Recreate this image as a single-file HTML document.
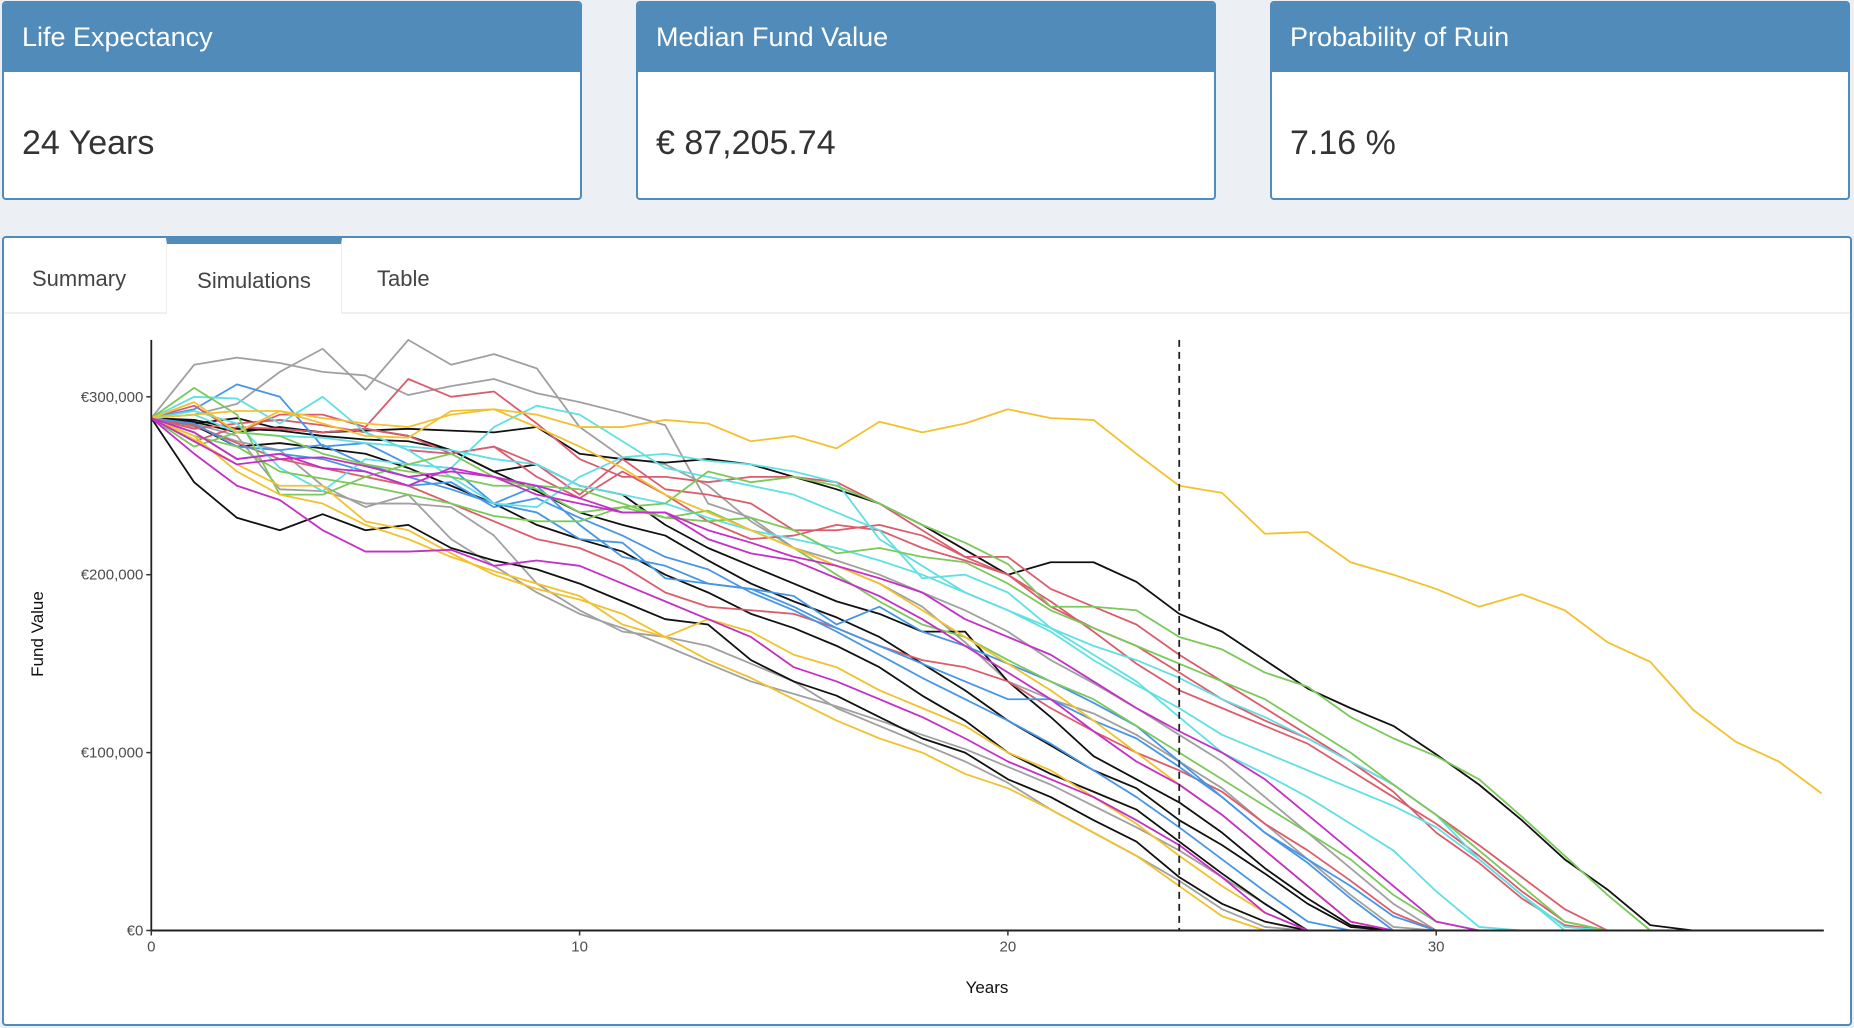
<!DOCTYPE html>
<html><head><meta charset="utf-8">
<style>
body{margin:0;width:1854px;height:1028px;background:#ecf0f5;font-family:"Liberation Sans",sans-serif;position:relative;overflow:hidden}
.card{position:absolute;top:1px;width:580px;height:199px;background:#fff;border:2px solid #4f8bbd;border-radius:4px;box-sizing:border-box;overflow:hidden}
.card .hd{height:69px;background:#508bba;color:#fff;font-size:27px;line-height:69px;padding-left:18px}
.card .val{font-size:34px;color:#333;padding-left:18px;margin-top:52px}
#tabbox{position:absolute;left:2px;top:236px;width:1850px;height:790px;background:#fff;border:2px solid #4f8bbd;border-radius:4px;box-sizing:border-box}
.tabbar{position:absolute;left:0;top:0;right:0;height:74px;border-bottom:2px solid #f0f0f0}
.tab{position:absolute;top:0;height:74px;line-height:82px;font-size:22px;color:#444}
.tab.active{background:#fff;border-top:6px solid #508bba;line-height:74px;border-left:1px solid #eee;border-right:1px solid #eee;height:70px;box-sizing:content-box}
svg{position:absolute;left:0;top:0}
</style></head><body>
<div class="card" style="left:2px"><div class="hd">Life Expectancy</div><div class="val">24 Years</div></div>
<div class="card" style="left:636px"><div class="hd">Median Fund Value</div><div class="val">€ 87,205.74</div></div>
<div class="card" style="left:1270px"><div class="hd">Probability of Ruin</div><div class="val">7.16 %</div></div>
<div id="tabbox">
<div class="tabbar">
<div class="tab" style="left:28px">Summary</div>
<div class="tab active" style="left:162px;width:174px;text-align:center">Simulations</div>
<div class="tab" style="left:373px">Table</div>
</div></div>
<svg id="chart" width="1854" height="1028"></svg>
<script>
const xTicks=[0,10,20,30];
const yTicks=[0,100,200,300];
const yTickLabels=["€0","€100,000","€200,000","€300,000"];
const lifeExpectancy=24;
const seriesColors=["#a0a0a0","#a0a0a0","#a0a0a0","#a0a0a0","#111111","#111111","#111111","#111111","#111111","#db5c6c","#db5c6c","#db5c6c","#db5c6c","#4796e6","#4796e6","#4796e6","#5fe0e4","#5fe0e4","#5fe0e4","#7ac95a","#7ac95a","#7ac95a","#f2c12e","#f2c12e","#f2c12e","#f2c12e","#c42fc6","#c42fc6","#c42fc6"];
const seriesValues=[
[288,318,322,319,314,312,301,306,310,302,297,291,284,240,232,215,208,200,190,180,168,152,139,125,110,95,75,55,35,15,0],
[288,290,296,314,327,304,332,318,324,316,283,266,262,250,230,215,205,195,182,162,140,130,122,110,95,80,60,40,20,2,0],
[288,285,278,248,247,240,240,238,222,195,180,168,165,160,150,140,125,115,105,95,83,68,55,42,28,12,2,0],
[288,283,275,270,250,238,245,220,205,190,178,170,160,150,140,133,126,118,110,102,92,82,70,58,45,30,15,0],
[288,252,232,225,234,225,228,215,208,203,195,185,175,172,152,140,132,120,108,100,85,75,62,50,30,15,5,0],
[288,287,282,281,278,276,275,270,258,247,235,228,222,208,195,185,176,165,150,135,118,104,90,80,62,48,32,15,2,0],
[288,285,288,282,280,282,278,270,258,262,250,245,228,215,205,195,185,178,168,168,140,120,98,85,72,55,35,18,3,0],
[288,286,280,283,280,281,282,281,280,283,268,265,263,265,262,255,248,240,228,214,200,207,207,196,178,168,152,136,125,115,99,82,62,40,23,3,0],
[288,284,272,274,271,268,260,250,240,228,220,213,200,190,178,170,160,148,132,118,100,88,78,68,50,32,15,0],
[288,295,280,290,290,283,310,300,303,285,265,255,255,252,255,255,252,240,225,210,200,182,170,160,145,130,118,108,95,82,65,48,30,12,0],
[288,275,283,282,280,282,278,268,272,262,245,265,248,245,240,225,225,228,222,210,210,192,182,172,155,140,125,110,95,78,55,38,18,3,0],
[288,284,274,265,260,255,250,240,230,220,215,205,190,182,180,178,170,160,152,148,140,125,112,100,90,78,60,45,28,10,0],
[288,282,285,287,284,280,270,268,272,255,243,258,245,230,220,222,228,225,215,208,200,185,168,150,135,125,115,105,90,75,60,42,22,5,0],
[288,293,307,300,272,274,262,260,240,250,228,210,205,195,192,188,172,182,168,160,150,140,128,115,95,75,55,40,25,8,0],
[288,285,272,270,273,262,255,248,240,235,220,218,198,195,192,182,170,160,150,140,130,130,118,108,92,75,55,38,18,0],
[288,280,265,268,265,258,250,252,238,243,232,222,210,203,190,180,168,155,142,130,118,105,90,75,58,40,22,5,0],
[288,300,299,285,300,280,270,255,240,238,255,266,268,264,262,258,252,220,205,190,180,170,160,152,142,130,120,108,95,82,65,40,20,2,0],
[288,290,280,278,277,274,272,270,265,262,250,245,240,232,225,220,215,208,200,190,180,168,152,138,125,110,100,90,80,70,58,40,20,0],
[288,292,285,260,247,265,262,260,283,295,290,275,260,255,250,245,235,225,198,200,190,170,155,140,120,100,88,75,60,45,22,2,0],
[288,305,290,245,245,255,262,268,255,248,235,238,240,258,252,255,250,240,228,218,206,182,182,180,165,158,145,137,120,108,98,85,64,42,20,0],
[288,272,280,278,268,262,258,255,250,250,248,240,232,236,225,215,200,185,172,165,152,140,130,115,100,85,70,55,40,20,5,0],
[288,278,272,258,254,250,245,240,233,230,230,238,232,230,232,225,212,215,210,207,195,180,170,160,150,140,130,115,100,82,65,45,25,5,0],
[288,290,292,292,288,285,283,290,293,290,283,283,287,285,275,278,271,286,280,285,293,288,287,268,250,246,223,224,207,200,192,182,189,180,162,151,124,106,95,77],
[288,278,258,245,240,228,220,210,202,195,188,172,165,175,168,155,148,135,125,115,100,90,75,60,42,25,10,0],
[288,276,262,250,250,230,225,212,200,192,186,178,165,152,142,130,118,108,100,88,80,68,55,42,25,8,0],
[288,297,280,292,285,278,277,292,293,283,272,260,245,235,225,215,205,195,180,165,150,135,118,100,82,65,45,25,5,0],
[288,268,250,242,225,213,213,214,205,208,205,195,185,175,165,148,140,130,120,108,95,85,75,62,48,30,10,0],
[288,275,262,265,266,261,255,258,255,245,240,235,235,225,218,210,205,198,190,175,165,155,140,125,112,100,85,65,45,25,5,0],
[288,280,265,268,260,258,250,260,255,250,243,235,235,220,212,208,198,188,175,160,145,130,112,95,82,65,45,25,5,0]
];
const NS="http://www.w3.org/2000/svg";
const svg=document.getElementById('chart');
const X0=151.3,PX=42.83,Y0=930.5,PY=1.779,XMAX=39.05,YMAX=332;
const sx=v=>X0+v*PX, sy=v=>Y0-v*PY;
function mk(t,a){const e=document.createElementNS(NS,t);for(const k in a)e.setAttribute(k,a[k]);svg.appendChild(e);return e;}
seriesValues.forEach((s,i)=>{
  const p=mk('polyline',{points:s.map((v,j)=>sx(j)+','+sy(v)).join(' '),fill:'none',stroke:seriesColors[i],'stroke-width':1.8,'stroke-linejoin':'round'});
  
  
});
const dl=mk('line',{x1:sx(lifeExpectancy),x2:sx(lifeExpectancy),y1:sy(YMAX),y2:Y0,stroke:'#222','stroke-width':1.8,'stroke-dasharray':'7,5'});


const ya=mk('line',{x1:X0,x2:X0,y1:sy(YMAX),y2:Y0,stroke:'#222','stroke-width':1.8});


const xa=mk('line',{x1:X0,x2:sx(XMAX),y1:Y0,y2:Y0,stroke:'#222','stroke-width':2});


yTicks.forEach((v,i)=>{
  mk('line',{x1:X0-5,x2:X0,y1:sy(v),y2:sy(v),stroke:'#333','stroke-width':1.5});
  const t=mk('text',{x:X0-8,y:sy(v)+5,'text-anchor':'end','font-size':15,fill:'#4d4d4d','font-family':'Liberation Sans, sans-serif'});
  t.textContent=yTickLabels[i];
  
  
});
xTicks.forEach(v=>{
  mk('line',{x1:sx(v),x2:sx(v),y1:Y0,y2:Y0+5,stroke:'#333','stroke-width':1.5});
  const t=mk('text',{x:sx(v),y:Y0+21,'text-anchor':'middle','font-size':15,fill:'#4d4d4d','font-family':'Liberation Sans, sans-serif'});
  t.textContent=v;
  
  
});
const xt=mk('text',{x:987,y:993,'text-anchor':'middle','font-size':17,fill:'#111','font-family':'Liberation Sans, sans-serif'});
xt.textContent='Years';


const yt=mk('text',{x:0,y:0,'text-anchor':'middle','font-size':17,fill:'#111','font-family':'Liberation Sans, sans-serif',transform:'translate(43,634) rotate(-90)'});
yt.textContent='Fund Value';


</script>
</body></html>
